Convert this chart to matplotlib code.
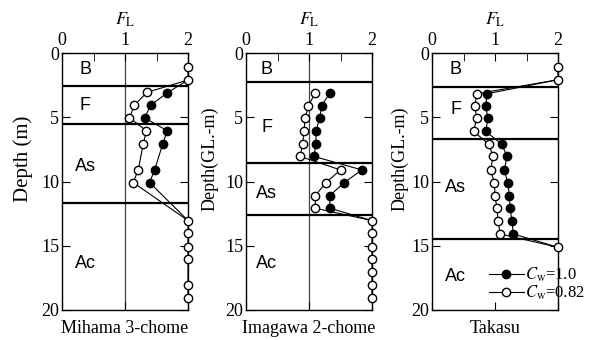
import matplotlib.pyplot as plt
from matplotlib.ticker import MultipleLocator

plt.rcParams['font.family'] = 'Liberation Serif'
plt.rcParams['mathtext.fontset'] = 'stix'

# Site 1: Mihama 3-chome
m_depth_open = [1.1, 2.1, 3.06, 4.05, 5.04, 6.05, 7.06, 9.1, 10.08, 13.04, 14.03, 15.06, 16.05, 18.05, 19.04]
m_fl_open = [2.0, 2.0, 1.35, 1.15, 1.07, 1.34, 1.29, 1.21, 1.13, 2.0, 2.0, 2.0, 2.0, 2.0, 2.0]
m_depth_fill = [2.1, 3.1, 4.05, 5.04, 6.05, 7.06, 9.1, 10.08, 13.04]
m_fl_fill = [2.0, 1.67, 1.41, 1.31, 1.67, 1.60, 1.47, 1.39, 2.0]
m_layers = [2.55, 5.56, 11.64]

# Site 2: Imagawa 2-chome
i_depth_open = [3.12, 4.1, 5.06, 6.05, 7.06, 8.05, 9.1, 10.08, 11.1, 12.08, 13.04, 14.03, 15.06, 16.05, 17.06, 18.05, 19.04]
i_fl_open = [1.10, 0.99, 0.94, 0.92, 0.90, 0.86, 1.50, 1.27, 1.10, 1.10, 2.0, 2.0, 2.0, 2.0, 2.0, 2.0, 2.0]
i_depth_fill = [3.12, 4.1, 5.06, 6.05, 7.06, 8.05, 9.1, 10.08, 11.1, 12.08, 13.04]
i_fl_fill = [1.33, 1.20, 1.17, 1.11, 1.11, 1.08, 1.84, 1.56, 1.33, 1.33, 2.0]
i_layers = [2.29, 8.55, 12.6]

# Site 3: Takasu
t_depth_open = [1.12, 2.08, 3.17, 4.16, 5.06, 6.1, 7.09, 8.05, 9.1, 10.08, 11.1, 12.08, 13.1, 14.08, 15.12]
t_fl_open = [2.0, 2.0, 0.71, 0.68, 0.71, 0.66, 0.90, 0.97, 0.93, 0.99, 1.00, 1.03, 1.05, 1.08, 2.0]
t_depth_fill = [2.08, 3.17, 4.16, 5.06, 6.1, 7.09, 8.05, 9.1, 10.08, 11.1, 12.08, 13.1, 14.08, 15.12]
t_fl_fill = [2.0, 0.875, 0.85, 0.89, 0.85, 1.11, 1.19, 1.15, 1.20, 1.23, 1.24, 1.27, 1.29, 2.0]
t_layers = [2.68, 6.7, 14.5]

layer_names = ['B', 'F', 'As', 'Ac']

sites = [
    dict(title='Mihama 3-chome', ylabel='Depth (m)', ylsize=15,
         do=m_depth_open, fo=m_fl_open, df=m_depth_fill, ff=m_fl_fill,
         layers=m_layers, fl1=True, lab_y=[1.3, 4.1, 8.8, 16.4], lab_x=0.37,
         left=62, ylx=23),
    dict(title='Imagawa 2-chome', ylabel='Depth(GL.-m)', ylsize=13,
         do=i_depth_open, fo=i_fl_open, df=i_depth_fill, ff=i_fl_fill,
         layers=i_layers, fl1=True, lab_y=[1.3, 5.8, 10.9, 16.4], lab_x=0.33,
         left=246, ylx=210),
    dict(title='Takasu', ylabel='Depth(GL.-m)', ylsize=13,
         do=t_depth_open, fo=t_fl_open, df=t_depth_fill, ff=t_fl_fill,
         layers=t_layers, fl1=False, lab_y=[1.3, 4.4, 10.5, 17.4], lab_x=0.38,
         left=432, ylx=400),
]

W, H = 597, 340
fig = plt.figure(figsize=(W / 100, H / 100), dpi=100)

for s in sites:
    ax = fig.add_axes([s['left'] / W, 30 / H, 126 / W, 257 / H])
    ax.set_xlim(0, 2)
    ax.set_ylim(20, 0)
    ax.xaxis.set_major_locator(MultipleLocator(1))
    ax.xaxis.set_minor_locator(MultipleLocator(0.5))
    ax.yaxis.set_major_locator(MultipleLocator(5))
    ax.tick_params(which='both', direction='in', top=True, bottom=True, left=True, right=True,
                   labeltop=True, labelbottom=False, labelsize=13)
    ax.tick_params(axis='x', pad=3)
    ax.tick_params(axis='y', pad=2)
    ax.tick_params(which='major', length=6)
    ax.tick_params(which='minor', length=6, bottom=False)
    ax.xaxis.set_label_position('top')
    ax.set_xlabel(r'$F_{\mathrm{L}}$', fontsize=13, labelpad=5)
    ax.text(s['ylx'] / W, 181 / H, s['ylabel'], rotation=90, fontsize=s['ylsize'],
            ha='center', va='center', transform=fig.transFigure)
    ax.text(0.5, -0.04, s['title'], transform=ax.transAxes, ha='center', va='top', fontsize=13)

    if s['fl1']:
        ax.axvline(1, color='#444444', lw=0.9, zorder=1)
    for d in s['layers']:
        ax.axhline(d, color='black', lw=1.6, zorder=2)
    for name, y in zip(layer_names, s['lab_y']):
        ax.text(s['lab_x'], y, name, family='Liberation Sans', fontsize=13, ha='center', va='center')

    ax.plot(s['ff'], s['df'], '-o', color='black', lw=0.8, ms=6, mfc='black', mec='black',
            markevery=list(range(1, len(s['df']) - 1)) if s['ff'][0] == 2.0 else list(range(0, len(s['df']) - 1)),
            zorder=3, clip_on=False, label=r'$C_{\mathrm{w}}$=1.0')
    ax.plot(s['fo'], s['do'], '-o', color='black', lw=0.8, ms=6, mfc='white', mec='black',
            zorder=4, clip_on=False, label=r'$C_{\mathrm{w}}$=0.82')
    for sp in ax.spines.values():
        sp.set_linewidth(1.0)

leg = ax.legend(loc='lower left', bbox_to_anchor=(0.45, 0.03), frameon=False, fontsize=12,
                handlelength=2.1, handletextpad=0.1, labelspacing=0.0, borderpad=0, borderaxespad=0)

plt.savefig('out.png', dpi=100)
